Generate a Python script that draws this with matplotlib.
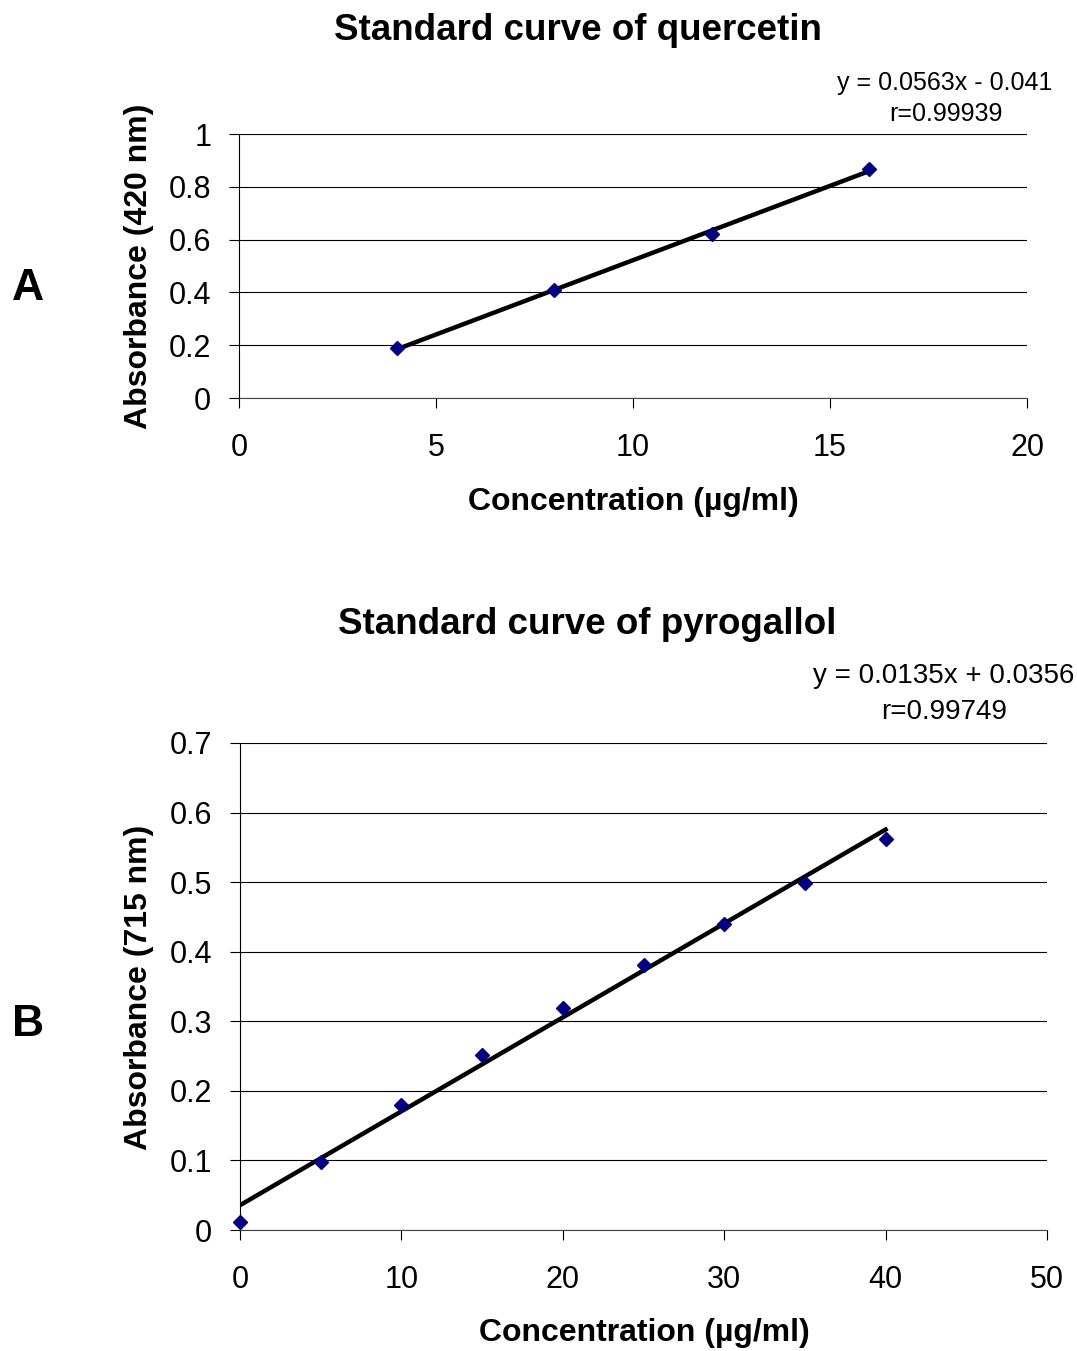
import matplotlib.pyplot as plt
import numpy as np

plt.rcParams['font.family'] = ['Liberation Sans', 'DejaVu Sans']

# quercetin standard curve
conc_q = [4, 8, 12, 16]
abs_q = [0.189, 0.409, 0.621, 0.867]
slope_q, icpt_q = 0.0563, -0.041

# pyrogallol standard curve
conc_p = [0, 5, 10, 15, 20, 25, 30, 35, 40]
abs_p = [0.0115, 0.098, 0.180, 0.252, 0.319, 0.381, 0.440, 0.499, 0.562]
slope_p, icpt_p = 0.0135, 0.0356

W, H = 1077, 1351
fig = plt.figure(figsize=(W/100, H/100), dpi=100)


def px(x, y):
    return x/W, 1-y/H


def style(ax, xt, yt, ylab):
    ax.set_xticks(xt)
    ax.set_yticks(yt)
    ax.set_yticklabels([f'{v:g}' for v in yt])
    ax.set_xlim(xt[0], xt[-1])
    ax.set_ylim(yt[0], yt[-1])
    ax.yaxis.grid(True, color='black', lw=0.8)
    ax.set_axisbelow(True)
    for s in ['top', 'right']:
        ax.spines[s].set_visible(False)
    ax.spines['left'].set_color('black')
    ax.spines['bottom'].set_color('#444444')
    ax.tick_params(direction='out', length=7, width=0.8, labelsize=22)
    ax.tick_params(axis='x', pad=18)
    ax.tick_params(axis='y', pad=13)
    ax.set_ylabel(ylab, fontsize=23, fontweight='bold')
    ax.set_xlabel('Concentration (µg/ml)', fontsize=23, fontweight='bold')


# panel A
axA = fig.add_axes([239/W, 1-398/H, 788/W, 264/H])
style(axA, [0, 5, 10, 15, 20], [0, 0.2, 0.4, 0.6, 0.8, 1], 'Absorbance (420 nm)')
xs = np.array([min(conc_q), max(conc_q)])
axA.plot(xs, slope_q*xs + icpt_q, color='black', lw=3.2, zorder=3)
axA.plot(conc_q, abs_q, 'D', color='#000080', ms=7.5, zorder=4)
axA.xaxis.set_label_coords(0.501, -0.337)
axA.yaxis.set_label_coords(-0.108, 0.5)

# panel B
axB = fig.add_axes([240/W, 1-1230/H, 807/W, 487/H])
style(axB, [0, 10, 20, 30, 40, 50], [0, 0.1, 0.2, 0.3, 0.4, 0.5, 0.6, 0.7], 'Absorbance (715 nm)')
xs = np.array([min(conc_p), max(conc_p)])
axB.plot(xs, slope_p*xs + icpt_p, color='black', lw=3.2, zorder=3)
axB.plot(conc_p, abs_p, 'D', color='#000080', ms=7.5, zorder=4, clip_on=False)
axB.xaxis.set_label_coords(0.5006, -0.181)
axB.yaxis.set_label_coords(-0.107, 0.499)

fig.text(*px(578, 30), 'Standard curve of quercetin', fontsize=26.5, fontweight='bold', ha='center', va='center')
fig.text(*px(587, 625), 'Standard curve of pyrogallol', fontsize=26.5, fontweight='bold', ha='center', va='center')
fig.text(*px(945, 83), 'y = 0.0563x - 0.041', fontsize=18, ha='center', va='center')
fig.text(*px(946, 114), 'r=0.99939', fontsize=18, ha='center', va='center')
fig.text(*px(944, 676), 'y = 0.0135x + 0.0356', fontsize=20, ha='center', va='center')
fig.text(*px(944, 712), 'r=0.99749', fontsize=20, ha='center', va='center')
fig.text(*px(28, 288), 'A', fontsize=32, fontweight='bold', ha='center', va='center')
fig.text(*px(28, 1025), 'B', fontsize=32, fontweight='bold', ha='center', va='center')

fig.savefig('out.png', dpi=100)
